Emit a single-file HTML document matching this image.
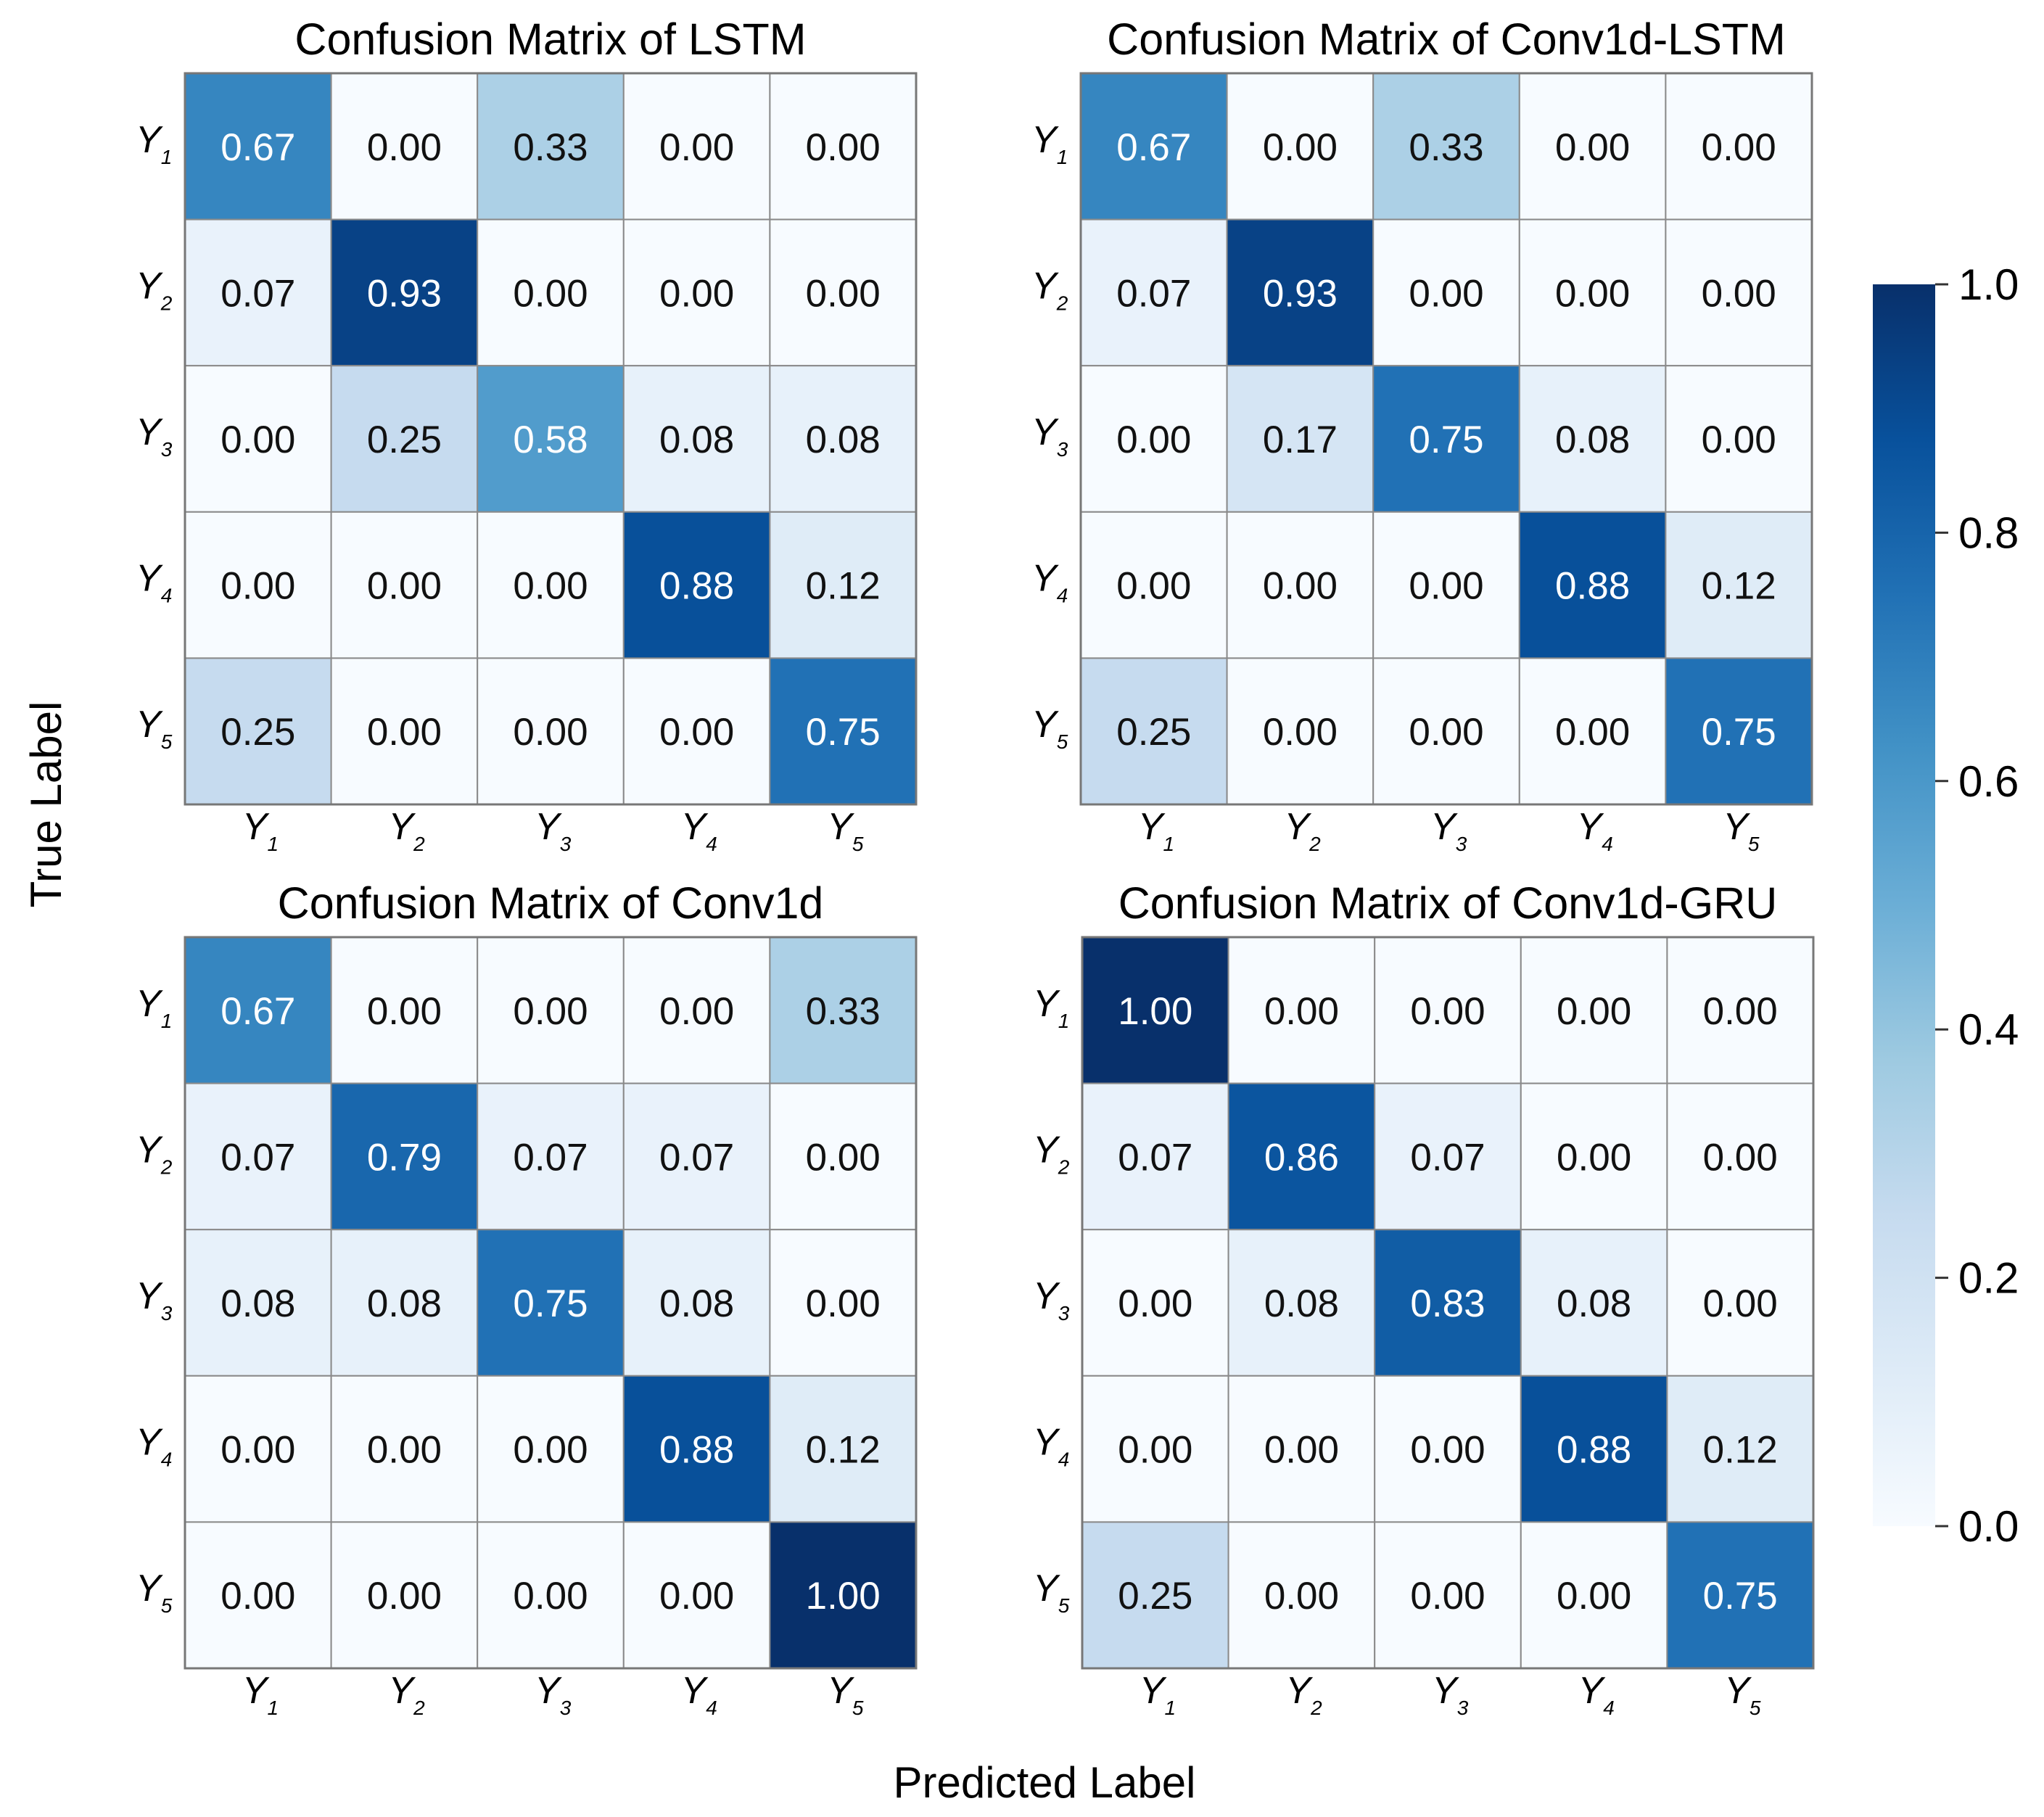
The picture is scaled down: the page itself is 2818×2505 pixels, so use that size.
<!DOCTYPE html>
<html><head><meta charset="utf-8"><style>
html,body{margin:0;padding:0;background:#fff}
svg{display:block}
text{font-family:"Liberation Sans",Arial,sans-serif}
</style></head><body>
<svg id="chart" width="2818" height="2505" viewBox="0 0 2818 2505" xmlns="http://www.w3.org/2000/svg">
<defs>
<linearGradient id="cbg" x1="0" y1="1" x2="0" y2="0">
<stop offset="0" stop-color="#f7fbff"/><stop offset="0.125" stop-color="#deebf7"/><stop offset="0.25" stop-color="#c6dbef"/><stop offset="0.375" stop-color="#9ecae1"/><stop offset="0.5" stop-color="#6baed6"/><stop offset="0.625" stop-color="#4292c6"/><stop offset="0.75" stop-color="#2171b5"/><stop offset="0.875" stop-color="#08519c"/><stop offset="1" stop-color="#08306b"/>
</linearGradient>
</defs>
<g id="panels"></g>
<text x="0" y="0" font-size="60" transform="translate(84,1109) rotate(-90)" text-anchor="middle">True Label</text>
<text x="1440" y="2478" font-size="60" text-anchor="middle">Predicted Label</text>
<g id="colorbar">
<rect x="2582" y="392" width="86" height="1712" fill="url(#cbg)"/>
</g>
</svg>
<script>
const titles = ["Confusion Matrix of LSTM","Confusion Matrix of Conv1d-LSTM","Confusion Matrix of Conv1d","Confusion Matrix of Conv1d-GRU"];
const classLabels = ["1","2","3","4","5"];
const matLSTM = [[0.67,0,0.33,0,0],[0.07,0.93,0,0,0],[0,0.25,0.58,0.08,0.08],[0,0,0,0.88,0.12],[0.25,0,0,0,0.75]];
const matConvLSTM = [[0.67,0,0.33,0,0],[0.07,0.93,0,0,0],[0,0.17,0.75,0.08,0],[0,0,0,0.88,0.12],[0.25,0,0,0,0.75]];
const matConv = [[0.67,0,0,0,0.33],[0.07,0.79,0.07,0.07,0],[0.08,0.08,0.75,0.08,0],[0,0,0,0.88,0.12],[0,0,0,0,1.00]];
const matConvGRU = [[1.00,0,0,0,0],[0.07,0.86,0.07,0,0],[0,0.08,0.83,0.08,0],[0,0,0,0.88,0.12],[0.25,0,0,0,0.75]];
const cbTicks = [0,0.2,0.4,0.6,0.8,1.0];

const NS="http://www.w3.org/2000/svg";
const stops=[[247,251,255],[222,235,247],[198,219,239],[158,202,225],[107,174,214],[66,146,198],[33,113,181],[8,81,156],[8,48,107]];
function blues(v){v=Math.max(0,Math.min(1,v));const p=v*8;const i=Math.min(7,Math.floor(p));const f=p-i;const a=stops[i],b=stops[i+1];return `rgb(${a.map((c,k)=>Math.round(c+(b[k]-c)*f)).join(',')})`;}
function mk(tag,attrs,parent){const e=document.createElementNS(NS,tag);for(const k in attrs)e.setAttribute(k,attrs[k]);parent.appendChild(e);return e;}
const mats=[matLSTM,matConvLSTM,matConv,matConvGRU];
const origins=[[255,101],[1490,101],[255,1292],[1492,1292]];
const cell=201.6;
const root=document.getElementById('panels');
mats.forEach((m,pi)=>{
  const [ox,oy]=origins[pi];
  const g=mk('g',{},root);
  
  
  const t=mk('text',{x:ox+cell*2.5,y:oy-26,'font-size':61,'text-anchor':'middle'},g);
  t.textContent=titles[pi];
  
  
  m.forEach((row,r)=>row.forEach((v,c)=>{
    const rc=mk('rect',{x:ox+c*cell,y:oy+r*cell,width:cell,height:cell,fill:blues(v),stroke:'#8a8a8a','stroke-width':2},g);
    
    
    const tx=mk('text',{x:ox+c*cell+cell/2,y:oy+r*cell+cell/2+19,'font-size':53,'text-anchor':'middle',fill:v>0.5?'#ffffff':'#111111'},g);
    tx.textContent=v.toFixed(2);
    
    
  }));
  mk('rect',{x:ox,y:oy,width:cell*5,height:cell*5,fill:'none',stroke:'#777','stroke-width':3},g);
  classLabels.forEach((l,i)=>{
    const yl=mk('text',{x:ox-68,y:oy+i*cell+cell/2+8,'font-size':52,'font-style':'italic'},g);
    yl.innerHTML='Y<tspan font-size="28" dy="16">'+l+'</tspan>';
    
    
    const xl=mk('text',{x:ox+i*cell+cell/2-22,y:oy+5*cell+48,'font-size':52,'font-style':'italic'},g);
    xl.innerHTML='Y<tspan font-size="28" dy="16">'+l+'</tspan>';
    
    
  });
});
const cb=document.getElementById('colorbar');
const cbY=v=>2104-v*1712;
cbTicks.forEach(v=>{
  mk('line',{x1:2668,x2:2686,y1:cbY(v),y2:cbY(v),stroke:'#333','stroke-width':3},cb);
  const t=mk('text',{x:2700,y:cbY(v)+21,'font-size':60},cb);
  t.textContent=v.toFixed(1);
  
  
});
</script>
</body></html>
